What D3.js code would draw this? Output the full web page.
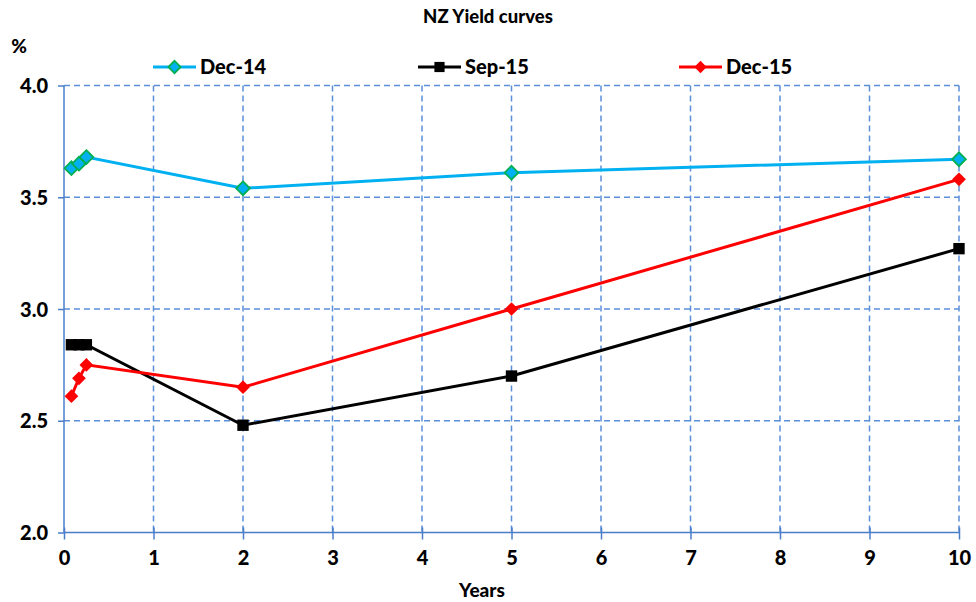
<!DOCTYPE html>
<html>
<head>
<meta charset="utf-8">
<script src="https://cdn.jsdelivr.net/npm/d3@7"></script>
<style>
  body { margin: 0; background: #fff; }
  svg text { font-family: "Century Gothic", Lato, "DejaVu Sans", sans-serif; font-weight: 900; fill: #000; }
</style>
</head>
<body>
<div id="chart"></div>
<script>
// data
const tenors = [0.083, 0.167, 0.25, 2, 5, 10];
const dec14 = [3.63, 3.65, 3.68, 3.54, 3.61, 3.67];
const sep15 = [2.84, 2.84, 2.84, 2.48, 2.70, 3.27];
const dec15 = [2.61, 2.69, 2.75, 2.65, 3.00, 3.58];
const seriesNames = ['Dec-14', 'Sep-15', 'Dec-15'];
const xTicks = [0, 1, 2, 3, 4, 5, 6, 7, 8, 9, 10];
const yTicks = [2.0, 2.5, 3.0, 3.5, 4.0];

const width = 976, height = 602;
const margin = { top: 85.5, right: 17, bottom: 69.5, left: 64 };
const innerW = width - margin.left - margin.right;
const innerH = height - margin.top - margin.bottom;

// series styles
const styles = [
  { name: seriesNames[0], values: dec14, line: '#00B0F0', fill: '#00B0F0', stroke: '#00B050', shape: d3.symbolDiamond2, size: 120 },
  { name: seriesNames[1], values: sep15, line: '#000000', fill: '#000000', stroke: '#000000', shape: d3.symbolSquare2, size: 165 },
  { name: seriesNames[2], values: dec15, line: '#FF0000', fill: '#FF0000', stroke: '#FF0000', shape: d3.symbolDiamond2, size: 120 }
];

const svg = d3.select('#chart').append('svg')
  .attr('width', width)
  .attr('height', height);

const g = svg.append('g')
  .attr('transform', `translate(${margin.left},${margin.top})`);

const x = d3.scaleLinear().domain([0, 10]).range([0, innerW]);
const y = d3.scaleLinear().domain([2, 4]).range([innerH, 0]);

const gridColor = '#5B8FD9';
const axisColor = '#4A7EC9';

// gridlines
g.append('g').selectAll('line')
  .data(yTicks.filter(d => d > 2))
  .enter().append('line')
  .attr('x1', 0).attr('x2', innerW)
  .attr('y1', d => y(d)).attr('y2', d => y(d))
  .attr('stroke', gridColor)
  .attr('stroke-width', 1.5)
  .attr('stroke-dasharray', '6,4');

g.append('g').selectAll('line')
  .data(xTicks.filter(d => d > 0))
  .enter().append('line')
  .attr('x1', d => x(d)).attr('x2', d => x(d))
  .attr('y1', 0).attr('y2', innerH)
  .attr('stroke', gridColor)
  .attr('stroke-width', 1.5)
  .attr('stroke-dasharray', '6,4');

// y axis
const yAxis = g.append('g')
  .call(d3.axisLeft(y).tickValues(yTicks).tickFormat(d3.format('.1f')).tickSize(6).tickPadding(10));
yAxis.selectAll('path, line').attr('stroke', axisColor).attr('stroke-width', 1.5);
yAxis.select('.domain').attr('d', `M0,0V${innerH}`);
yAxis.selectAll('text').style('font-size', '20px').attr('dy', '0.35em');

// x axis
const xAxis = g.append('g')
  .attr('transform', `translate(0,${innerH})`)
  .call(d3.axisBottom(x).tickValues(xTicks).tickFormat(d3.format('d')).tickSize(7).tickPadding(11));
xAxis.selectAll('path, line').attr('stroke', axisColor).attr('stroke-width', 1.5);
xAxis.select('.domain').attr('d', `M0,0H${innerW}`);
xAxis.selectAll('line').attr('y1', -5);
xAxis.selectAll('text').style('font-size', '20px');

// lines and markers
const line = d3.line()
  .x((d, i) => x(tenors[i]))
  .y(d => y(d));

styles.forEach(s => {
  g.append('path')
    .datum(s.values)
    .attr('d', line)
    .attr('fill', 'none')
    .attr('stroke', s.line)
    .attr('stroke-width', 3);

  g.append('g').selectAll('path')
    .data(s.values)
    .enter().append('path')
    .attr('d', d3.symbol().type(s.shape).size(s.size))
    .attr('transform', (d, i) => `translate(${x(tenors[i])},${y(d)})`)
    .attr('fill', s.fill)
    .attr('stroke', s.stroke)
    .attr('stroke-width', s.stroke === s.fill ? 0 : 1.8);
});

// legend
const legendX = [153, 418, 679];
const legend = svg.append('g');
styles.forEach((s, i) => {
  const lg = legend.append('g').attr('transform', `translate(${legendX[i]},67)`);
  lg.append('line')
    .attr('x1', 0).attr('x2', 43)
    .attr('y1', 0).attr('y2', 0)
    .attr('stroke', s.line)
    .attr('stroke-width', 3);
  lg.append('path')
    .attr('d', d3.symbol().type(s.shape).size(s.size * 0.8))
    .attr('transform', 'translate(21.5,0)')
    .attr('fill', s.fill)
    .attr('stroke', s.stroke)
    .attr('stroke-width', s.stroke === s.fill ? 0 : 1.8);
  lg.append('text')
    .attr('x', 47)
    .attr('y', 0)
    .attr('dy', '0.35em')
    .style('font-size', '20px')
    .text(s.name);
});

// title and axis titles
svg.append('text')
  .attr('x', 488)
  .attr('y', 23)
  .attr('text-anchor', 'middle')
  .style('font-size', '18.5px')
  .text('NZ Yield curves');

svg.append('text')
  .attr('x', 19)
  .attr('y', 53)
  .attr('text-anchor', 'middle')
  .style('font-size', '19px')
  .text('%');

svg.append('text')
  .attr('x', 482)
  .attr('y', 597)
  .attr('text-anchor', 'middle')
  .style('font-size', '19px')
  .text('Years');
</script>
</body>
</html>
